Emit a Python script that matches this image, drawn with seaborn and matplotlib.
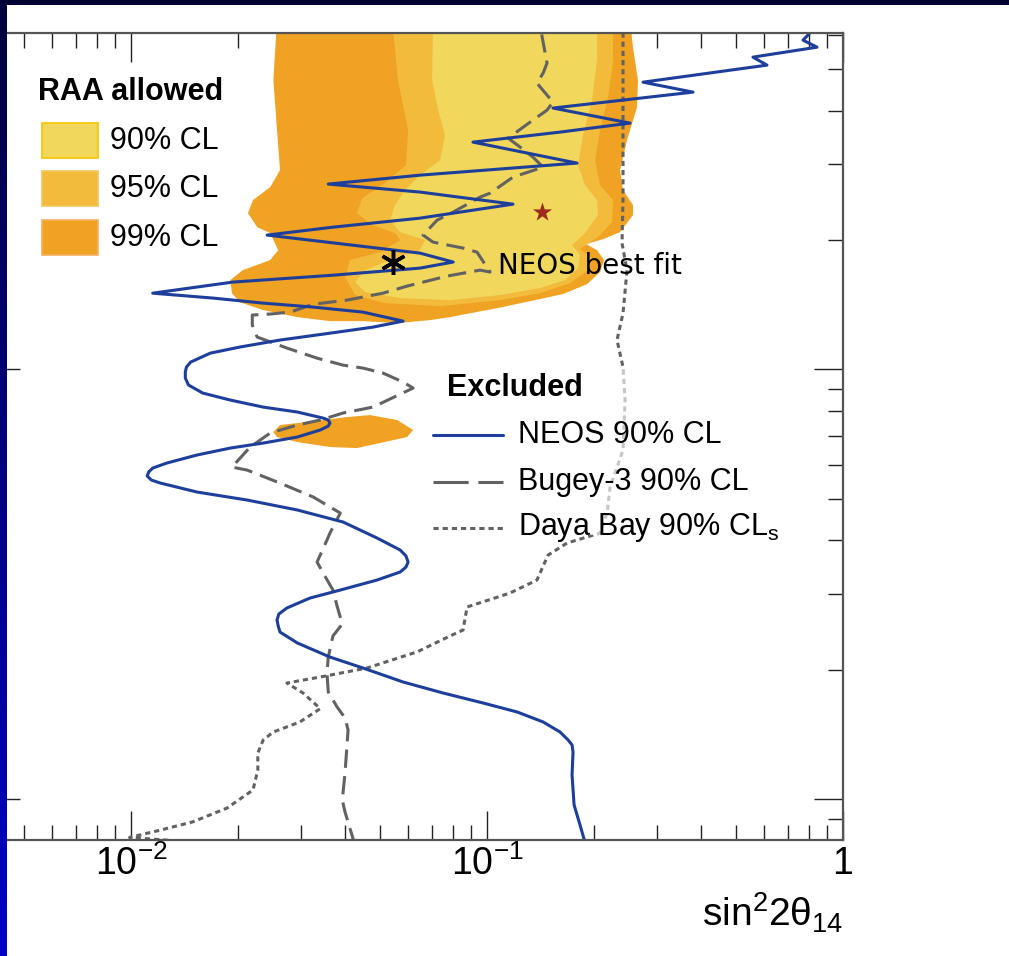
import numpy as np
import matplotlib
matplotlib.use("Agg")
import matplotlib.pyplot as plt
import seaborn as sns
from matplotlib.patches import Rectangle
from matplotlib.colors import LinearSegmentedColormap
from matplotlib.ticker import FixedLocator, NullFormatter, LogLocator

# ---- data (sin^2 2theta_14 , dm^2_41 in eV^2) ----
neos_sin2 = [0.190, 0.1825, 0.1756, 0.1733, 0.1744, 0.1733, 0.1689, 0.1603, 0.1437, 0.1215,
             0.0974, 0.0752, 0.0581, 0.0448, 0.0362, 0.0293, 0.0262, 0.0259, 0.0257, 0.0260,
             0.0274, 0.0318, 0.0387, 0.0491, 0.0570, 0.0592, 0.0600, 0.0592, 0.0570, 0.0491,
             0.0394, 0.0293, 0.0212, 0.0153, 0.0121, 0.0114, 0.0111, 0.0112, 0.0115, 0.0126,
             0.0153, 0.0190, 0.0235, 0.0293, 0.0340, 0.0358, 0.0362, 0.0358, 0.0346, 0.0293,
             0.0235, 0.0190, 0.0159, 0.0145, 0.0142, 0.0142, 0.0143, 0.0147, 0.0167, 0.0202,
             0.0262, 0.0362, 0.0478, 0.0581, 0.0448, 0.0325, 0.0235, 0.0170, 0.0115, 0.0193,
             0.0369, 0.0648, 0.0803, 0.0648, 0.0241, 0.0369, 0.0648, 0.1183, 0.0648, 0.0358,
             0.0648, 0.1790, 0.0913, 0.1603, 0.2522, 0.1532, 0.3791, 0.2743, 0.6115, 0.5586,
             0.8452, 0.7720, 0.8452]
neos_dm2 = [0.0775, 0.0871, 0.0970, 0.1139, 0.1288, 0.1338, 0.1374, 0.1434, 0.1513, 0.1596,
            0.1675, 0.1767, 0.1874, 0.2020, 0.2142, 0.2310, 0.2449, 0.2529, 0.2612, 0.2697,
            0.2786, 0.2938, 0.3067, 0.3236, 0.3378, 0.3469, 0.3563, 0.3680, 0.3800, 0.4052,
            0.4415, 0.4709, 0.4966, 0.5185, 0.5438, 0.5527, 0.5647, 0.5770, 0.5894, 0.6055,
            0.6320, 0.6561, 0.6739, 0.6960, 0.7228, 0.7380, 0.7502, 0.7624, 0.7705, 0.7958,
            0.8171, 0.8484, 0.8808, 0.9194, 0.9545, 0.9857, 1.012, 1.040, 1.091, 1.127,
            1.170, 1.214, 1.254, 1.295, 1.359, 1.396, 1.426, 1.465, 1.504, 1.596,
            1.656, 1.720, 1.777, 1.864, 2.053, 2.142, 2.248, 2.423, 2.585, 2.698,
            2.830, 3.019, 3.378, 3.564, 3.740, 4.054, 4.415, 4.657, 5.102, 5.325,
            5.617, 5.833, 6.30]

bugey_sin2 = [0.0426, 0.0399, 0.0392, 0.0399, 0.0407, 0.0399, 0.0379, 0.0358, 0.0355, 0.0358,
              0.0369, 0.0392, 0.0379, 0.0369, 0.0351, 0.0333, 0.0355, 0.0362, 0.0387, 0.0362,
              0.0325, 0.0262, 0.0212, 0.0192, 0.0216, 0.0246, 0.0293, 0.0340, 0.0394, 0.0478,
              0.0620, 0.0581, 0.0510, 0.0448, 0.0394, 0.0333, 0.0274, 0.0226, 0.0219, 0.0219,
              0.0246, 0.0280, 0.0325, 0.0404, 0.0510, 0.0596, 0.0772, 0.0956, 0.1020, 0.0937,
              0.0856, 0.0705, 0.0661, 0.0724, 0.0803, 0.0956, 0.1020, 0.1183, 0.1437, 0.1346,
              0.1238, 0.1146, 0.1321, 0.1474, 0.1532, 0.1381, 0.1437, 0.1474, 0.1409]
bugey_dm2 = [0.0780, 0.0934, 0.0996, 0.1151, 0.1449, 0.1546, 0.1640, 0.1777, 0.1967, 0.2142,
             0.2398, 0.2557, 0.2815, 0.3067, 0.3296, 0.3563, 0.4009, 0.4162, 0.4632, 0.4785,
             0.5047, 0.5438, 0.5830, 0.5925, 0.6597, 0.7112, 0.7423, 0.7624, 0.7915, 0.8171,
             0.9048, 0.9343, 0.9804, 1.007, 1.023, 1.062, 1.121, 1.189, 1.268, 1.338,
             1.345, 1.359, 1.418, 1.449, 1.504, 1.562, 1.648, 1.702, 1.684, 1.874,
             1.915, 1.977, 2.053, 2.224, 2.322, 2.516, 2.570, 2.801, 2.954, 3.117,
             3.289, 3.451, 3.759, 4.009, 4.184, 4.632, 4.887, 5.158, 6.30]

daya_sin2 = [0.0135, 0.0099, 0.0121, 0.0149, 0.0186, 0.0220, 0.0227, 0.0227, 0.0235, 0.0251,
             0.0298, 0.0340, 0.0304, 0.0274, 0.0340, 0.0460, 0.0636, 0.0787, 0.0856, 0.0879,
             0.1160, 0.1381, 0.1484, 0.1678, 0.2077, 0.2174, 0.2216, 0.2410, 0.2442, 0.2410,
             0.2318, 0.2410, 0.2473, 0.2394, 0.2410, 0.2410]
daya_dm2 = [0.0800, 0.0815, 0.0848, 0.0886, 0.0954, 0.1051, 0.1170, 0.1281, 0.1374, 0.1434,
            0.1513, 0.1625, 0.1767, 0.1864, 0.1925, 0.2020, 0.2202, 0.2398, 0.2475, 0.2801,
            0.3018, 0.3236, 0.3699, 0.3945, 0.4162, 0.4632, 0.5323, 0.6492, 0.8484, 1.012,
            1.170, 1.352, 1.702, 1.966, 2.516, 6.30]

# RAA allowed regions (contour outlines)
raa99_sin2 = [0.0257, 0.0251, 0.0257, 0.0262, 0.0246, 0.0220, 0.0213, 0.0226, 0.0246, 0.0259,
              0.0246, 0.0206, 0.0190, 0.0192, 0.0202, 0.0235, 0.0293, 0.0362, 0.0448, 0.0559,
              0.0692, 0.0787, 0.1067, 0.1321, 0.1635, 0.1910, 0.2077, 0.2132, 0.2037, 0.1897,
              0.2118, 0.2364, 0.2570, 0.2570, 0.2410, 0.2364, 0.2473, 0.2638, 0.2655, 0.2570,
              0.2522]
raa99_dm2 = [6.50, 4.708, 3.602, 2.908, 2.655, 2.476, 2.310, 2.142, 2.075, 1.894,
             1.796, 1.702, 1.613, 1.504, 1.433, 1.374, 1.323, 1.295, 1.295, 1.281,
             1.302, 1.323, 1.388, 1.441, 1.497, 1.579, 1.684, 1.796, 1.894, 1.956,
             2.009, 2.086, 2.285, 2.411, 2.612, 2.908, 3.414, 4.074, 4.708, 5.617,
             6.50]
raa99_island_sin2 = [0.0251, 0.0262, 0.0312, 0.0404, 0.0469, 0.0559, 0.0620, 0.0596, 0.0500,
                     0.0431, 0.0362, 0.0293, 0.0257]
raa99_island_dm2 = [0.7148, 0.7423, 0.7542, 0.7746, 0.7829, 0.7624, 0.7228, 0.6960, 0.6739,
                    0.6561, 0.6597, 0.6776, 0.6960]

raa95_sin2 = [0.0541, 0.0562, 0.0600, 0.0592, 0.0517, 0.0446, 0.0431, 0.0475, 0.0551, 0.0570,
              0.0500, 0.0412, 0.0399, 0.0426, 0.0517, 0.0738, 0.1088, 0.1409, 0.1710, 0.1922,
              0.1972, 0.1825, 0.2050, 0.2245, 0.2259, 0.2077, 0.2011, 0.2077, 0.2187, 0.2259,
              0.2259]
raa95_dm2 = [6.50, 4.708, 3.602, 2.986, 2.713, 2.503, 2.310, 2.166, 2.075, 1.999,
             1.874, 1.796, 1.639, 1.489, 1.426, 1.403, 1.449, 1.504, 1.587, 1.702,
             1.815, 1.905, 2.031, 2.201, 2.476, 2.684, 3.067, 3.602, 4.298, 5.158,
             6.50]

raa90_sin2 = [0.0705, 0.0701, 0.0729, 0.0762, 0.0738, 0.0648, 0.0588, 0.0551, 0.0534, 0.0570,
              0.0670, 0.0648, 0.0534, 0.0454, 0.0426, 0.0454, 0.0570, 0.0787, 0.1088, 0.1409,
              0.1656, 0.1802, 0.1825, 0.1733, 0.1885, 0.2050, 0.2037, 0.1885, 0.1802, 0.1861,
              0.1972, 0.2037, 0.2037]
raa90_dm2 = [6.50, 4.708, 4.009, 3.507, 3.067, 2.830, 2.612, 2.411, 2.224, 2.086,
             1.999, 1.894, 1.796, 1.702, 1.596, 1.513, 1.465, 1.449, 1.489, 1.546,
             1.613, 1.720, 1.845, 1.946, 2.075, 2.285, 2.476, 2.684, 2.986, 3.507,
             4.230, 5.240, 6.50]

neos_best = (0.0545, 1.78)
raa_best = (0.1427, 2.32)

x_ticks = [0.01, 0.1, 1.0]
x_ticklabels = [r"$10^{-2}$", r"$10^{-1}$", "1"]

c99, c95, c90 = "#f0a222", "#f3bb3c", "#f1d75c"
neos_col = "#1d3f9b"
grey = "#626262"

# ---- figure ----
W, H = 1009, 956
sns.set_theme(style="white")
plt.rcParams["font.family"] = ["Liberation Sans", "DejaVu Sans"]
plt.rcParams["mathtext.fontset"] = "custom"
plt.rcParams["mathtext.rm"] = "Liberation Sans"
plt.rcParams["mathtext.it"] = "Liberation Sans:italic"
plt.rcParams["mathtext.default"] = "regular"
plt.rcParams["text.color"] = "black"
plt.rcParams["xtick.labelcolor"] = "black"

fig = plt.figure(figsize=(W / 100, H / 100), dpi=100, facecolor="white")


def fxy(x, y):
    # pixel position -> figure fraction
    return x / W, 1 - y / H


ax = fig.add_axes([-9 / W, (H - 840) / H, 852 / W, 807 / H])
ax.set_xscale("log")
ax.set_yscale("log")

# allowed regions
ax.fill(raa99_sin2, raa99_dm2, color=c99, lw=0, zorder=1)
ax.fill(raa99_island_sin2, raa99_island_dm2, color=c99, lw=0, zorder=1)
ax.fill(raa95_sin2, raa95_dm2, color=c95, lw=0, zorder=1.1)
ax.fill(raa90_sin2, raa90_dm2, color=c90, lw=0, zorder=1.2)

# exclusion curves
sns.lineplot(x=daya_sin2, y=daya_dm2, sort=False, estimator=None, ax=ax, color=grey,
             lw=2.2, linestyle=(0, (1.7, 1.3)), zorder=2)
sns.lineplot(x=bugey_sin2, y=bugey_dm2, sort=False, estimator=None, ax=ax, color=grey,
             lw=2.2, linestyle=(0, (6.0, 2.7)), zorder=2.2)
sns.lineplot(x=neos_sin2, y=neos_dm2, sort=False, estimator=None, ax=ax, color=neos_col,
             lw=2.2, zorder=2.4)

# best fit points
ax.plot([neos_best[0]], [neos_best[1]], ls="none", marker=(6, 2, 0), ms=18, mew=2.5,
        color="black", zorder=4)
sns.scatterplot(x=[raa_best[0]], y=[raa_best[1]], marker="*", s=210, color="#9c2b1d",
                linewidth=0, ax=ax, zorder=4)
ax.text(0.107, 1.74, "NEOS best fit", fontsize=20, family="DejaVu Sans", color="black",
        ha="left", va="center", zorder=3)

ax.set_xlim(0.00404, 1.0)
ax.set_ylim(0.0804, 6.06)

ax.xaxis.set_major_locator(FixedLocator(x_ticks))
ax.set_xticklabels(x_ticklabels)
ax.xaxis.set_minor_locator(LogLocator(subs=np.arange(2, 10)))
ax.xaxis.set_minor_formatter(NullFormatter())
ax.yaxis.set_major_locator(LogLocator(subs=[1.0]))
ax.yaxis.set_minor_locator(LogLocator(subs=np.arange(2, 10)))
ax.yaxis.set_major_formatter(NullFormatter())
ax.yaxis.set_minor_formatter(NullFormatter())

ax.tick_params(which="both", direction="in", top=True, right=True, left=True, bottom=True,
               color="#222222", width=1.0, labelsize=27, labelcolor="black", pad=4)
ax.tick_params(which="major", length=21)
ax.tick_params(which="minor", length=10.5)
for sp in ax.spines.values():
    sp.set_color("#555555")
    sp.set_linewidth(1.6)

ax.text(1.0, -0.107, r"$\mathregular{sin^{2}2θ_{14}}$", transform=ax.transAxes,
        ha="right", va="baseline", fontsize=28, color="black")

# ---- legend: RAA allowed ----
fig.text(*fxy(38, 92), "RAA allowed", fontsize=22, fontweight="bold", ha="left", va="center")
for yc, col, edge, lab in [(141, c90, "#f5c400", "90% CL"),
                           (189, c95, "#f5c560", "95% CL"),
                           (238, c99, "#f4b060", "99% CL")]:
    fig.add_artist(Rectangle(fxy(42, yc + 17), 56 / W, 35 / H, transform=fig.transFigure,
                             facecolor=col, edgecolor=edge, lw=1.2, zorder=2))
    fig.text(*fxy(110, yc), lab, fontsize=22, ha="left", va="center")

# ---- legend: Excluded ----
fig.add_artist(Rectangle(fxy(430, 535), 370 / W, 165 / H, transform=fig.transFigure,
                         facecolor="white", alpha=0.64, lw=0, zorder=1))
fig.text(*fxy(447, 388), "Excluded", fontsize=22, fontweight="bold", ha="left", va="center")
for yc, col, ls, lab in [(435, neos_col, "-", "NEOS 90% CL"),
                         (482, grey, (0, (11.5, 3.2)), "Bugey-3 90% CL"),
                         (528, grey, (0, (1.7, 1.3)), r"Daya Bay 90% CL$_{\mathregular{s}}$")]:
    x0, y0 = fxy(433, yc)
    x1, _ = fxy(503, yc)
    fig.add_artist(plt.Line2D([x0, x1], [y0, y0], transform=fig.transFigure, color=col,
                              lw=2.2, linestyle=ls, zorder=2))
    fig.text(*fxy(518, yc), lab, fontsize=22, ha="left", va="center")

# ---- slide frame (dark blue border) ----
bar = fig.add_axes([0, 0, 7 / W, 1])
bar.imshow(np.linspace(0, 1, 256)[:, None], aspect="auto",
           cmap=LinearSegmentedColormap.from_list("frame", ["#00003c", "#0000c8"]))
bar.axis("off")
fig.add_artist(Rectangle((0, 1 - 5 / H), 1, 5 / H, transform=fig.transFigure,
                         color="#000033", lw=0, zorder=10))

fig.savefig("out.png", dpi=100)
